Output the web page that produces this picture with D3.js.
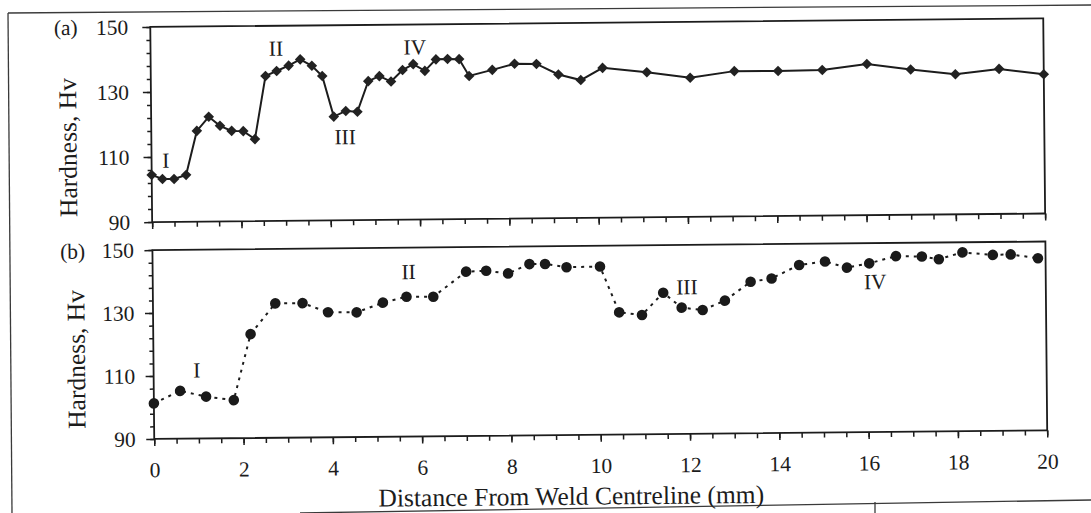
<!DOCTYPE html>
<html>
<head>
<meta charset="utf-8">
<script src="https://cdn.jsdelivr.net/npm/d3@7"></script>
<style>
  body { margin: 0; background: #fff; }
  text { font-family: "Liberation Serif", "Times New Roman", serif; fill: #1c1c1c; }
</style>
</head>
<body>
<svg id="chart" width="1091" height="513"></svg>
<script>
// panel (a) - solid line, diamonds
var distA = [0, 0.24, 0.5, 0.77, 1.02, 1.29, 1.54, 1.8, 2.06, 2.32, 2.57, 2.82, 3.09, 3.35, 3.61, 3.84,
             4.09, 4.36, 4.62, 4.87, 5.12, 5.38, 5.64, 5.88, 6.14, 6.39, 6.65, 6.91, 7.13, 7.65, 8.15,
             8.64, 9.13, 9.63, 10.12, 11.11, 12.08, 13.07, 14.05, 15.04, 16.04, 17.02, 18.02, 19.0, 20.0];
var hardA = [104.5, 103.2, 103.2, 104.4, 117.9, 122.2, 119.4, 117.8, 117.7, 115.2, 134.6, 136.1, 137.7, 139.6, 137.6, 134.4,
             121.9, 123.6, 123.3, 132.7, 134.2, 132.5, 136.0, 137.8, 135.7, 139.2, 139.3, 139.2, 134.0, 135.8, 137.6,
             137.5, 134.2, 132.4, 136.1, 134.6, 132.8, 134.7, 134.6, 134.8, 136.5, 134.7, 133.1, 134.6, 132.8];

// panel (b) - dotted line, circles
var distB = [0, 0.59, 1.17, 1.79, 2.18, 2.74, 3.35, 3.92, 4.56, 5.15, 5.68, 6.28, 7.02, 7.47, 7.96, 8.44,
             8.79, 9.27, 10.02, 10.44, 10.95, 11.43, 11.84, 12.31, 12.81, 13.39, 13.86, 14.48, 15.06,
             15.55, 16.05, 16.65, 17.23, 17.61, 18.14, 18.82, 19.22, 19.83];
var hardB = [101.3, 105.2, 103.3, 102.1, 123.0, 132.7, 132.7, 129.7, 129.6, 132.6, 134.4, 134.3, 142.2, 142.4, 141.5, 144.4,
             144.4, 143.3, 143.4, 128.8, 127.9, 134.9, 130.1, 129.3, 132.2, 138.1, 139.1, 143.3, 144.3,
             142.3, 143.6, 145.8, 145.6, 144.7, 146.8, 145.9, 146.0, 144.7];

var yTickLabels = [90, 110, 130, 150];
var xTickLabels = [0, 2, 4, 6, 8, 10, 12, 14, 16, 18, 20];

// zone markers I-IV
var zonesA = [["I", 0.32, 109], ["II", 2.81, 143.1], ["III", 4.34, 115.7], ["IV", 5.92, 143.1]];
var zonesB = [["I", 0.97, 111.8], ["II", 5.73, 142.4], ["III", 11.96, 136.7], ["IV", 16.18, 137.8]];

var svg = d3.select("#chart");
var ink = "#1c1c1c";

// scanned page frame
var frame = svg.append("g").attr("stroke", "#3a3a3a").attr("stroke-width", 1.3).attr("fill", "none");
frame.append("line").attr("x1", 8).attr("y1", 13).attr("x2", 1091).attr("y2", 5);
frame.append("line").attr("x1", 8).attr("y1", 13).attr("x2", 12).attr("y2", 513);
frame.append("line").attr("x1", 300).attr("y1", 513).attr("x2", 1091).attr("y2", 500);
frame.append("line").attr("x1", 875).attr("y1", 502).attr("x2", 875).attr("y2", 513);

// the scan is tilted a little
var g = svg.append("g").attr("transform", "rotate(-0.55,545,256)");

var x = d3.scaleLinear().domain([0, 20]).range([152.5, 1045.5]);
var yA = d3.scaleLinear().domain([90, 150]).range([218.3, 23.2]);
var yB = d3.scaleLinear().domain([90, 150]).range([435.2, 246.3]);

function styleAxis(sel, size) {
  sel.attr("font-family", null).attr("font-size", size);
  sel.select(".domain").remove();
  sel.selectAll("line").attr("stroke", ink).attr("stroke-width", 1.5);
  sel.selectAll("text").attr("fill", ink);
}

function panel(y, yPad, showX, tag, tagPos, titlePos) {
  var bottom = y.range()[0], top = y.range()[1];

  // minor and major y ticks
  g.append("g").attr("transform", "translate(" + x(0) + ",0)")
    .call(d3.axisLeft(y).tickValues(d3.range(90, 151, 4)).tickSize(4).tickFormat(""))
    .call(styleAxis, 21);
  g.append("g").attr("transform", "translate(" + x(0) + ",0)")
    .call(d3.axisLeft(y).tickValues(yTickLabels).tickSize(8).tickPadding(yPad))
    .call(styleAxis, 21.5);

  // x ticks
  g.append("g").attr("transform", "translate(0," + bottom + ")")
    .call(d3.axisBottom(x).tickValues(d3.range(0, 20.01, 0.5)).tickSize(5).tickFormat(""))
    .call(styleAxis, 21);
  var xa = d3.axisBottom(x).tickValues(xTickLabels).tickSize(7).tickPadding(16);
  if (!showX) xa.tickFormat("");
  g.append("g").attr("transform", "translate(0," + bottom + ")")
    .call(xa).call(styleAxis, 21.5);

  // box
  g.append("rect")
    .attr("x", x(0)).attr("y", top)
    .attr("width", x(20) - x(0)).attr("height", bottom - top)
    .attr("fill", "none").attr("stroke", ink).attr("stroke-width", 1.8);

  g.append("text").attr("x", tagPos[0]).attr("y", tagPos[1]).attr("dy", "0.32em")
    .attr("text-anchor", "middle").attr("font-size", 21.5).text(tag);

  g.append("text")
    .attr("transform", "translate(" + titlePos[0] + "," + titlePos[1] + ") rotate(-90)")
    .attr("dy", "0.32em").attr("text-anchor", "middle").attr("font-size", 25.5)
    .text("Hardness, Hv");
}

panel(yA, 14, false, "(a)", [68, 23.4], [69.4, 143]);
panel(yB, 10.5, true, "(b)", [72.7, 247.2], [75.7, 355]);

// panel (a) series
var ptsA = d3.zip(distA, hardA);
g.append("path").datum(ptsA)
  .attr("d", d3.line().x(function(d) { return x(d[0]); }).y(function(d) { return yA(d[1]); }))
  .attr("fill", "none").attr("stroke", ink).attr("stroke-width", 2);
g.selectAll(".dia").data(ptsA).enter().append("path")
  .attr("class", "dia")
  .attr("d", d3.symbol(d3.symbolSquare, 56))
  .attr("transform", function(d) { return "translate(" + x(d[0]) + "," + yA(d[1]) + ") rotate(45)"; })
  .attr("fill", "#222");

// panel (b) series
var ptsB = d3.zip(distB, hardB);
g.append("path").datum(ptsB)
  .attr("d", d3.line().x(function(d) { return x(d[0]); }).y(function(d) { return yB(d[1]); }))
  .attr("fill", "none").attr("stroke", ink).attr("stroke-width", 2)
  .attr("stroke-dasharray", "3,5");
g.selectAll(".dot").data(ptsB).enter().append("circle")
  .attr("class", "dot")
  .attr("cx", function(d) { return x(d[0]); })
  .attr("cy", function(d) { return yB(d[1]); })
  .attr("r", 5.3)
  .attr("fill", "#1a1a1a");

// zone labels
g.selectAll(".zA").data(zonesA).enter().append("text")
  .attr("x", function(d) { return x(d[1]); }).attr("y", function(d) { return yA(d[2]); })
  .attr("dy", "0.35em").attr("text-anchor", "middle").attr("font-size", 21.5)
  .text(function(d) { return d[0]; });
g.selectAll(".zB").data(zonesB).enter().append("text")
  .attr("x", function(d) { return x(d[1]); }).attr("y", function(d) { return yB(d[2]); })
  .attr("dy", "0.35em").attr("text-anchor", "middle").attr("font-size", 21.5)
  .text(function(d) { return d[0]; });

// x axis title
g.append("text").attr("x", 569).attr("y", 505)
  .attr("text-anchor", "middle").attr("font-size", 25.5)
  .text("Distance From Weld Centreline (mm)");
</script>
</body>
</html>
